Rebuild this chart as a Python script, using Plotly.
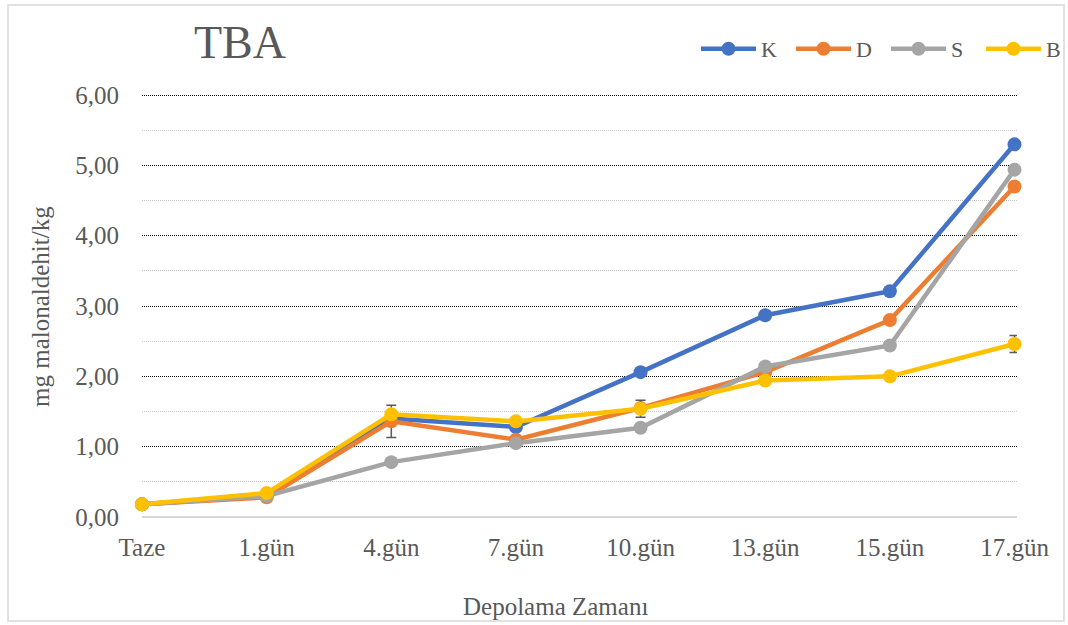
import plotly.graph_objects as go

# Storage days (x categories)
days = ["Taze", "1.gün", "4.gün", "7.gün", "10.gün", "13.gün", "15.gün", "17.gün"]

# TBA values (mg malonaldehit/kg) per group
k_vals = [0.18, 0.30, 1.40, 1.28, 2.06, 2.87, 3.21, 5.30]
d_vals = [0.18, 0.28, 1.36, 1.10, 1.55, 2.06, 2.80, 4.70]
s_vals = [0.18, 0.30, 0.78, 1.05, 1.27, 2.14, 2.44, 4.94]
b_vals = [0.18, 0.34, 1.46, 1.36, 1.54, 1.94, 2.00, 2.46]

# Standard deviations
k_err = [0, 0, 0, 0, 0, 0, 0, 0]
d_err = [0, 0, 0.23, 0, 0, 0, 0, 0]
s_err = [0, 0, 0, 0, 0, 0, 0, 0]
b_err = [0, 0, 0, 0, 0.12, 0, 0, 0.12]

series_names = ["K", "D", "S", "B"]
series_vals = [k_vals, d_vals, s_vals, b_vals]
series_err = [k_err, d_err, s_err, b_err]
colors = ["#4472C4", "#ED7D31", "#A5A5A5", "#FFC000"]

FONT = "Liberation Serif"
TXT = "#595959"

W, H = 1068, 625
ML, MR, MT, MB = 142, 51, 93, 108
YMAX = 6.03

fig = go.Figure()
for name, vals, err, col in zip(series_names, series_vals, series_err, colors):
    fig.add_trace(go.Scatter(
        x=days, y=vals, name=name, mode="lines+markers",
        line=dict(color=col, width=4.5),
        marker=dict(color=col, size=14),
        error_y=dict(type="data", array=err, visible=True,
                     color="#595959", thickness=1.5, width=5),
        cliponaxis=False,
    ))

pw = W - ML - MR
ph = H - MT - MB

def px_x(p):
    return (p - ML) / pw

def px_y(p):
    return (H - MB - p) / ph

fig.update_layout(
    width=W, height=H,
    margin=dict(l=ML, r=MR, t=MT, b=MB, autoexpand=False),
    paper_bgcolor="white", plot_bgcolor="white",
    separators=",.",
    font=dict(family=FONT, color=TXT, size=25),
    showlegend=True,
    legend=dict(
        orientation="h", x=px_x(696), y=px_y(49), xanchor="left", yanchor="middle",
        font=dict(family=FONT, size=22, color=TXT), itemwidth=55,
        entrywidth=25, entrywidthmode="pixels",
        bgcolor="rgba(0,0,0,0)",
    ),
    xaxis=dict(
        range=[0, 7.02], showgrid=False, zeroline=False, showline=False,
        ticks="", tickfont=dict(family=FONT, size=25, color=TXT), ticklabelstandoff=13,
    ),
    yaxis=dict(
        range=[0, YMAX], tickvals=[0, 1, 2, 3, 4, 5, 6], tickformat=".2f",
        showgrid=True, gridcolor="#000000", gridwidth=1, griddash="1px,1px",
        minor=dict(tickvals=[0.5, 1.5, 2.5, 3.5, 4.5, 5.5], showgrid=True,
                   gridcolor="#C8C8C8", gridwidth=1, griddash="1px,1px"),
        zeroline=True, zerolinecolor="#D9D9D9", zerolinewidth=2,
        showline=False, ticks="", tickfont=dict(family=FONT, size=25, color=TXT),
        ticklabelstandoff=22,
    ),
    annotations=[
        dict(text="TBA", x=px_x(240), y=px_y(42), xref="paper", yref="paper",
             showarrow=False, font=dict(size=46, color=TXT, family=FONT),
             xanchor="center", yanchor="middle"),
        dict(text="Depolama Zamanı", x=px_x(555), y=px_y(606), xref="paper", yref="paper",
             showarrow=False, font=dict(size=25, color=TXT, family=FONT),
             xanchor="center", yanchor="middle"),
        dict(text="mg malonaldehit/kg", x=px_x(40), y=px_y(307), xref="paper", yref="paper",
             showarrow=False, textangle=-90, font=dict(size=25, color=TXT, family=FONT),
             xanchor="center", yanchor="middle"),
    ],
    shapes=[
        dict(type="rect", xref="paper", yref="paper",
             x0=px_x(8), x1=px_x(1064), y0=px_y(621), y1=px_y(5),
             line=dict(color="#D9D9D9", width=1.5), fillcolor="rgba(0,0,0,0)",
             layer="below"),
    ],
)

fig.write_html("out.html")
